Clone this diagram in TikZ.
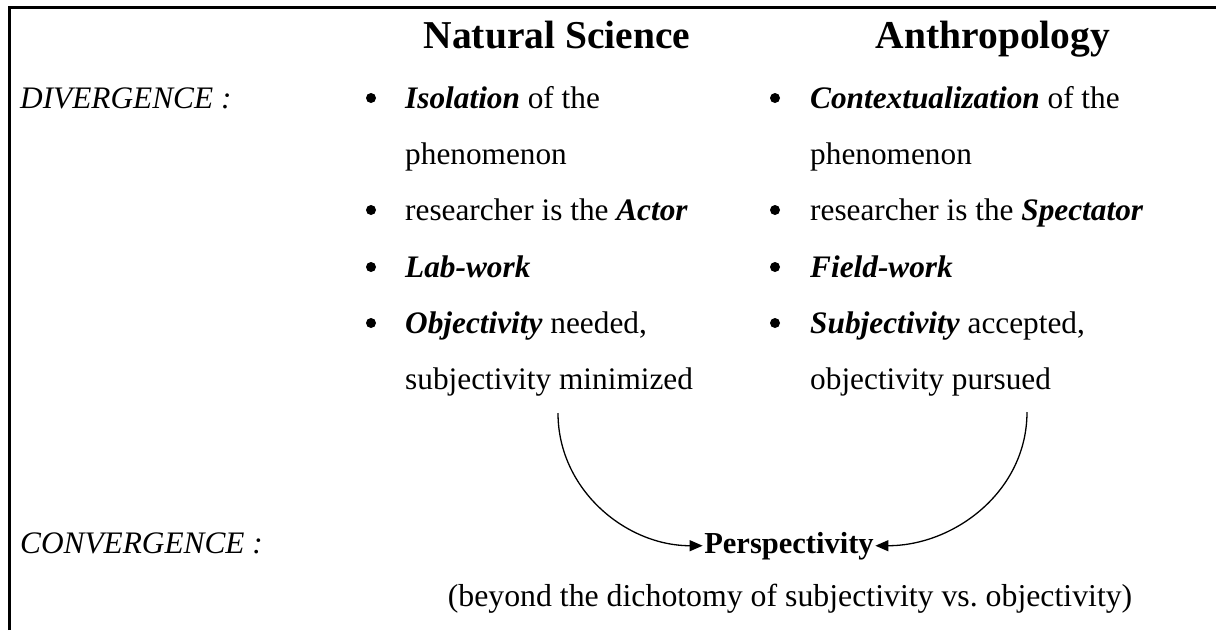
\documentclass[tikz,border=0pt]{standalone}
\usepackage{fontspec}
\setmainfont{Liberation Serif}
\usetikzlibrary{arrows.meta}
\begin{document}
\begin{tikzpicture}[x=1pt,y=-1pt,
  txt/.style={anchor=base west,inner sep=0pt,font=\fontsize{31.3}{36}\selectfont},
  hdr/.style={anchor=base,inner sep=0pt,font=\fontsize{39.5}{46}\selectfont\bfseries},
  bul/.style={circle,fill=black,inner sep=0pt,minimum size=10pt},
  conn/.style={line width=1.3pt,-{Triangle[length=13pt,width=11pt]}}]
\useasboundingbox (0,0) rectangle (1216,630);
\draw[line width=3pt] (9,630) -- (9,7.5) -- (1216,7.5);
% headers
\node[hdr] (hns) at (557,48) {Natural Science};
\node[hdr] (han) at (993,48) {Anthropology};
% side labels
\node[txt] (div) at (20,108) {\itshape DIVERGENCE :};
\node[txt] (conv) at (20,553) {\itshape CONVERGENCE :};
% left column
\node[bul] (lb1) at (371,98) {};
\node[bul] (lb3) at (371,210) {};
\node[bul] (lb4) at (371,267) {};
\node[bul] (lb5) at (371,323) {};
\node[txt] (l1) at (405,108) {\textbf{\textit{Isolation}} of the};
\node[txt] (l2) at (405,164) {phenomenon};
\node[txt] (l3) at (405,220) {researcher is the \textbf{\textit{Actor}}};
\node[txt] (l4) at (405,277) {\textbf{\textit{Lab-work}}};
\node[txt] (l5) at (405,333) {\textbf{\textit{Objectivity}} needed,};
\node[txt] (l6) at (405,389) {subjectivity minimized};
% right column
\node[bul] (rb1) at (775,98) {};
\node[bul] (rb3) at (775,210) {};
\node[bul] (rb4) at (775,267) {};
\node[bul] (rb5) at (775,323) {};
\node[txt] (r1) at (810,108) {\textbf{\textit{Contextualization}} of the};
\node[txt] (r2) at (810,164) {phenomenon};
\node[txt] (r3) at (810,220) {researcher is the \textbf{\textit{Spectator}}};
\node[txt] (r4) at (810,277) {\textbf{\textit{Field-work}}};
\node[txt] (r5) at (810,333) {\textbf{\textit{Subjectivity}} accepted,};
\node[txt] (r6) at (810,389) {objectivity pursued};
% convergence
\node[anchor=base,inner ysep=0pt,inner xsep=1.5pt,font=\fontsize{30.5}{36}\selectfont\bfseries] (persp) at (789,553) {Perspectivity};
\node[anchor=base,inner sep=0pt,font=\fontsize{31.8}{36}\selectfont] (beyond) at (790,606) {(beyond the dichotomy of subjectivity vs.\ objectivity)};
\coordinate (ls) at (558,413);
\coordinate (rs) at (1027,412);
\draw[conn] (ls) to[out=-90,in=180] (persp.west);
\draw[conn] (rs) to[out=-90,in=0] (persp.east);
\end{tikzpicture}
\end{document}
